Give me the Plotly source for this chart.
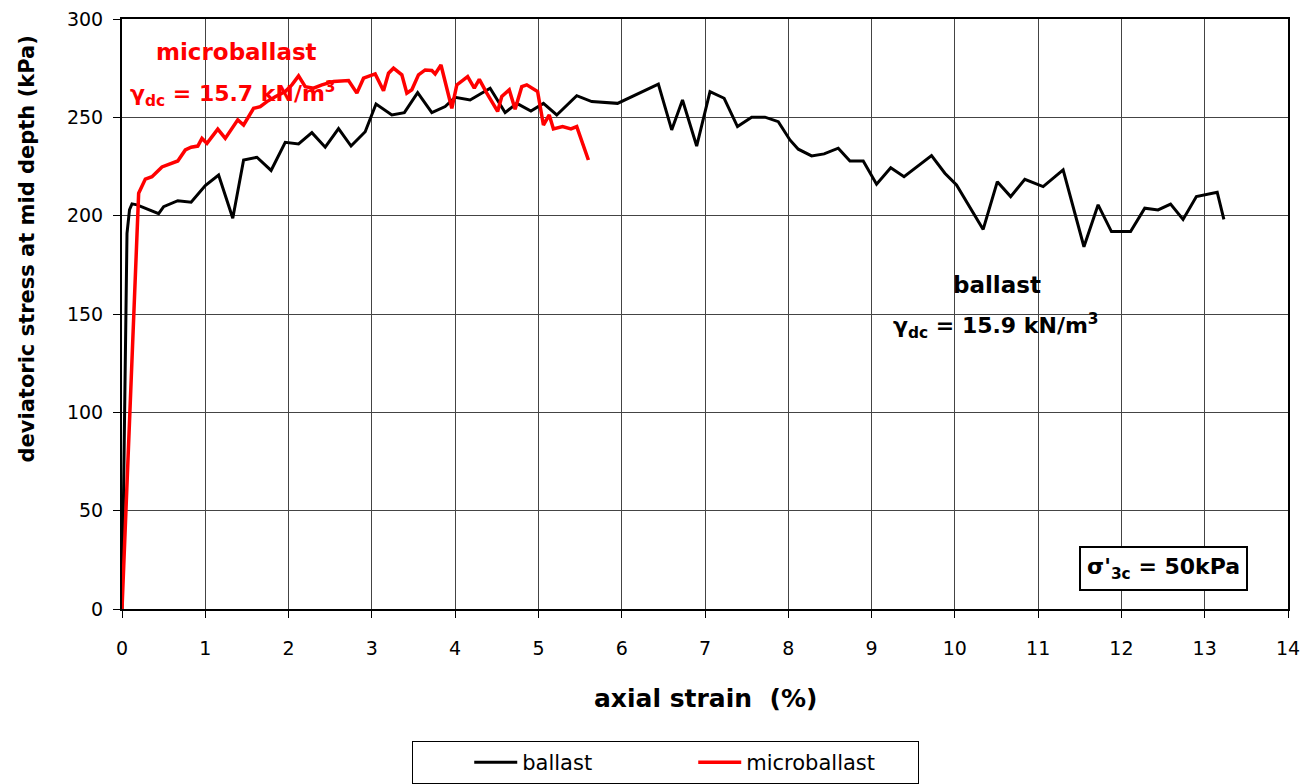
import plotly.graph_objects as go

# Ballast: axial strain (%) vs deviatoric stress (kPa)
ballast_strain = [0, 0.06, 0.09, 0.12, 0.18, 0.44, 0.50, 0.67, 0.83, 1.00, 1.16, 1.33, 1.46, 1.62,
                  1.79, 1.96, 2.12, 2.28, 2.44, 2.60, 2.75, 2.92, 3.05, 3.24, 3.39, 3.55, 3.72,
                  3.88, 4.00, 4.18, 4.42, 4.60, 4.74, 4.91, 5.06, 5.22, 5.46, 5.64, 5.95, 6.44,
                  6.60, 6.73, 6.90, 7.06, 7.23, 7.39, 7.56, 7.72, 7.88, 8.02, 8.12, 8.28, 8.43,
                  8.60, 8.74, 8.90, 9.06, 9.23, 9.39, 9.55, 9.72, 9.88, 10.02, 10.34, 10.51,
                  10.67, 10.84, 11.06, 11.30, 11.55, 11.72, 11.88, 12.11, 12.28, 12.44, 12.59,
                  12.74, 12.90, 13.15, 13.23]
ballast_stress = [0, 191, 203, 206, 205.5, 201, 204.6, 207.6, 206.8, 215.3, 220.7, 198.7, 228.3,
                  229.7, 223, 237.3, 236.5, 242.2, 234.8, 244.3, 235.4, 242.7, 256.8, 251.2,
                  252.4, 262.6, 252.4, 255.5, 260.2, 258.8, 264.8, 252.4, 257.1, 253.2, 257.1,
                  251.2, 261, 258, 257.1, 266.9, 243.6, 258.8, 235.4, 263.1, 259.7, 245.3, 250.1,
                  250.1, 247.8, 238.5, 233.8, 230.4, 231.4, 234.3, 227.8, 227.8, 216, 224.4,
                  219.8, 224.9, 230.5, 221.6, 215.6, 193, 217.3, 209.7, 218.5, 214.8, 223.3,
                  184.2, 205.5, 191.9, 191.9, 203.8, 202.9, 205.9, 198.1, 209.7, 211.9, 198.1]

# Microballast: axial strain (%) vs deviatoric stress (kPa)
micro_strain = [0, 0.20, 0.28, 0.36, 0.48, 0.67, 0.76, 0.83, 0.91, 0.96, 1.02, 1.15, 1.24, 1.32,
                1.39, 1.46, 1.58, 1.66, 1.74, 1.84, 1.96, 2.04, 2.12, 2.20, 2.30, 2.40, 2.54,
                2.72, 2.82, 2.90, 3.04, 3.14, 3.20, 3.26, 3.36, 3.42, 3.48, 3.56, 3.64, 3.72,
                3.76, 3.83, 3.96, 4.02, 4.15, 4.23, 4.29, 4.38, 4.51, 4.56, 4.65, 4.72, 4.80,
                4.86, 4.99, 5.06, 5.13, 5.18, 5.29, 5.39, 5.46, 5.60]
micro_stress = [0, 211.4, 218.6, 219.8, 224.8, 227.8, 233.4, 234.8, 235.4, 239.3, 236.8, 244,
                239.3, 244.4, 248.7, 246.1, 254.6, 255.4, 258, 260.5, 263.1, 266.5, 271.1,
                265.6, 264.8, 266.5, 268.2, 268.7, 262.3, 269.9, 272.1, 263.5, 272.4, 275,
                271.6, 262.3, 264, 271.6, 274.1, 273.8, 272.1, 276.6, 254.6, 266.5, 270.7,
                264.8, 269.3, 262.3, 253, 260.6, 264, 254.1, 265.6, 266.5, 263.1, 246.1,
                251.2, 244.1, 245.3, 244.1, 245.3, 228.3]

x_ticks = list(range(0, 15))
y_ticks = [0, 50, 100, 150, 200, 250, 300]

FONT = "DejaVu Sans"

fig = go.Figure()
fig.add_trace(go.Scatter(x=ballast_strain, y=ballast_stress, mode="lines", name="ballast",
                         line=dict(color="black", width=3)))
fig.add_trace(go.Scatter(x=micro_strain, y=micro_stress, mode="lines", name="microballast",
                         line=dict(color="#ff0000", width=3.5)))

axis_common = dict(showline=True, linecolor="black", linewidth=2, mirror=True,
                   showgrid=True, gridcolor="#444444", gridwidth=1,
                   ticks="outside", ticklen=7, tickcolor="black", tickwidth=1,
                   zeroline=False, automargin=False,
                   tickfont=dict(family=FONT, size=19, color="black"))

fig.update_xaxes(range=[0, 14], tickvals=x_ticks, ticklabelstandoff=14, **axis_common)
fig.update_yaxes(range=[0, 300], tickvals=y_ticks, ticklabelstandoff=6, **axis_common)

annotations = [
    # axis titles
    dict(text="axial strain&nbsp;&nbsp;(%)", xref="paper", yref="paper", x=0.5, y=-0.151,
         xanchor="center", yanchor="middle", showarrow=False,
         font=dict(family=FONT, size=25, color="black", weight="bold")),
    dict(text="deviatoric stress at mid depth (kPa)", xref="paper", yref="paper",
         x=-0.0815, y=0.611, textangle=-90, xanchor="center", yanchor="middle",
         showarrow=False, font=dict(family=FONT, size=21, color="black", weight="bold")),
    # microballast labels
    dict(text="microballast", x=1.37, y=283.2, xref="x", yref="y", showarrow=False,
         xanchor="center", yanchor="middle",
         font=dict(family=FONT, size=23, color="#ff0000", weight="bold")),
    dict(text="γ<sub>dc</sub> = 15.7 kN/m<sup>3</sup>", x=1.33, y=262, xref="x", yref="y",
         showarrow=False, xanchor="center", yanchor="middle",
         font=dict(family=FONT, size=22, color="#ff0000", weight="bold")),
    # ballast labels
    dict(text="ballast", x=10.5, y=164.7, xref="x", yref="y", showarrow=False,
         xanchor="center", yanchor="middle",
         font=dict(family=FONT, size=23, color="black", weight="bold")),
    dict(text="γ<sub>dc</sub> = 15.9 kN/m<sup>3</sup>", x=10.49, y=143.9, xref="x", yref="y",
         showarrow=False, xanchor="center", yanchor="middle",
         font=dict(family=FONT, size=22, color="black", weight="bold")),
    # confining pressure box
    dict(text="σ'<sub>3c</sub> = 50kPa", x=12.51, y=20.7, xref="x", yref="y", showarrow=False,
         xanchor="center", yanchor="middle", bordercolor="black", borderwidth=2, borderpad=6,
         bgcolor="white",
         font=dict(family=FONT, size=22, color="black", weight="bold")),
]

fig.update_layout(
    width=1308, height=784,
    margin=dict(l=122, r=20, t=19, b=175, autoexpand=False),
    paper_bgcolor="white", plot_bgcolor="white",
    showlegend=True,
    legend=dict(orientation="h", xref="container", yref="container",
                x=411.5 / 1308, y=1 - 741 / 784, xanchor="left", yanchor="top",
                bordercolor="black", borderwidth=1, bgcolor="white",
                title=dict(text="&nbsp;" * 7, side="left",
                           font=dict(family=FONT, size=21)),
                itemwidth=43, entrywidth=166, entrywidthmode="pixels",
                font=dict(family=FONT, size=21, color="black")),
    annotations=annotations,
)

fig.write_html("out.html")
